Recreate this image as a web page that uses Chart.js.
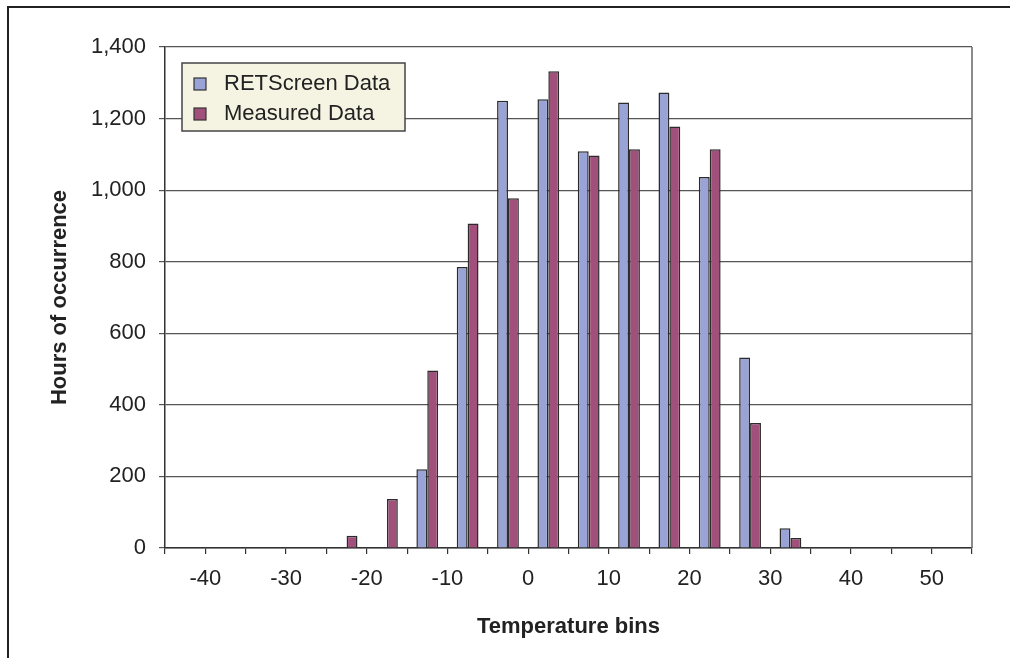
<!DOCTYPE html>
<html>
<head>
<meta charset="utf-8">
<script src="https://cdn.jsdelivr.net/npm/chart.js@4/dist/chart.umd.min.js"></script>
<style>
  html, body { margin: 0; padding: 0; background: #fff; }
  #chart { display: block; }
</style>
</head>
<body>
<canvas id="chart" width="1010" height="658"></canvas>
<script>
// Bin centres (deg C) and hours per bin
const binCenters = [-22.5, -17.5, -12.5, -7.5, -2.5, 2.5, 7.5, 12.5, 17.5, 22.5, 27.5, 32.5];
const retscreenHours = [null, null, 220, 785, 1250, 1254, 1109, 1245, 1273, 1037, 532, 55];
const measuredHours = [34, 137, 496, 907, 977, 1332, 1097, 1114, 1178, 1114, 349, 28];

const xMin = -45, xMax = 55, xStep = 5;
const yMin = 0, yMax = 1400, yStep = 200;

const seriesNames = ['RETScreen Data', 'Measured Data'];
const seriesColors = ['#99a3d6', '#a0507b'];

const FONT = "'Liberation Sans', Arial, Helvetica, sans-serif";
const FONT_SIZE = 22;

function toPoints(values) {
    return binCenters.map((x, i) => ({ x: x, y: values[i] }));
}

// outer frame (top + left edge) and right border of plot
const framePlugin = {
    id: 'frame',
    beforeDraw(chart) {
        const ctx = chart.ctx;
        ctx.save();
        ctx.fillStyle = '#fff';
        ctx.fillRect(0, 0, chart.width, chart.height);
        ctx.fillStyle = '#222';
        ctx.fillRect(7, 6, chart.width - 7, 2);
        ctx.fillRect(7, 6, 2, chart.height - 6);
        ctx.restore();
    },
    afterDatasetsDraw(chart) {
        const ctx = chart.ctx;
        const a = chart.chartArea;
        ctx.save();
        ctx.strokeStyle = '#666';
        ctx.lineWidth = 1.5;
        ctx.beginPath();
        ctx.moveTo(a.right, a.top);
        ctx.lineTo(a.right, a.bottom);
        ctx.stroke();
        ctx.restore();
    }
};

// legend box drawn inside the plot area
const boxLegendPlugin = {
    id: 'boxLegend',
    afterDraw(chart) {
        const ctx = chart.ctx;
        ctx.save();
        ctx.fillStyle = '#f5f3e2';
        ctx.fillRect(182, 63, 223, 68);
        ctx.strokeStyle = '#444';
        ctx.lineWidth = 1.5;
        ctx.strokeRect(182, 63, 223, 68);

        ctx.font = FONT_SIZE + 'px ' + FONT;
        ctx.textBaseline = 'middle';
        ctx.textAlign = 'left';
        chart.data.datasets.forEach((ds, i) => {
            const cy = 84 + i * 30;
            ctx.fillStyle = ds.backgroundColor;
            ctx.fillRect(194, cy - 6, 12, 12);
            ctx.strokeStyle = '#333';
            ctx.lineWidth = 1.2;
            ctx.strokeRect(194, cy - 6, 12, 12);
            ctx.fillStyle = '#222';
            ctx.fillText(ds.label, 224, cy);
        });
        ctx.restore();
    }
};

new Chart(document.getElementById('chart'), {
    type: 'bar',
    data: {
        datasets: [
            {
                label: seriesNames[0],
                data: toPoints(retscreenHours),
                backgroundColor: seriesColors[0],
                borderColor: '#2b2b2b',
                borderWidth: 1.5
            },
            {
                label: seriesNames[1],
                data: toPoints(measuredHours),
                backgroundColor: seriesColors[1],
                borderColor: '#2b2b2b',
                borderWidth: 1.5
            }
        ]
    },
    options: {
        responsive: false,
        animation: false,
        devicePixelRatio: 1,
        categoryPercentage: 0.54,
        barPercentage: 1.0,
        layout: { padding: { top: 47, right: 38, bottom: 0, left: 0 } },
        plugins: {
            legend: { display: false },
            tooltip: { enabled: false }
        },
        scales: {
            x: {
                type: 'linear',
                min: xMin,
                max: xMax,
                offset: false,
                afterFit(scale) { scale.height = 110; },
                ticks: {
                    stepSize: xStep,
                    autoSkip: false,
                    maxRotation: 0,
                    padding: 12,
                    color: '#222',
                    font: { family: FONT, size: FONT_SIZE },
                    callback: v => (v % 10 === 0 ? String(v) : '')
                },
                grid: {
                    offset: false,
                    drawOnChartArea: false,
                    drawTicks: true,
                    tickLength: 6,
                    color: '#333',
                    lineWidth: 1.2
                },
                border: { display: true, color: '#333', width: 1.5 },
                title: {
                    display: true,
                    text: 'Temperature bins',
                    color: '#222',
                    font: { family: FONT, size: FONT_SIZE, weight: 'bold' },
                    padding: { top: 0, bottom: 18 }
                }
            },
            y: {
                min: yMin,
                max: yMax,
                afterFit(scale) { scale.width = 165; },
                ticks: {
                    stepSize: yStep,
                    padding: 13,
                    color: '#222',
                    font: { family: FONT, size: FONT_SIZE },
                    callback: v => v.toLocaleString('en-US')
                },
                grid: {
                    color: '#555',
                    lineWidth: 1.2,
                    drawTicks: true,
                    tickLength: 6
                },
                border: { display: true, color: '#333', width: 1.5 },
                title: {
                    display: true,
                    text: 'Hours of occurrence',
                    color: '#222',
                    font: { family: FONT, size: FONT_SIZE, weight: 'bold' },
                    padding: { top: 47, bottom: 0 }
                }
            }
        }
    },
    plugins: [framePlugin, boxLegendPlugin]
});
</script>
</body>
</html>
